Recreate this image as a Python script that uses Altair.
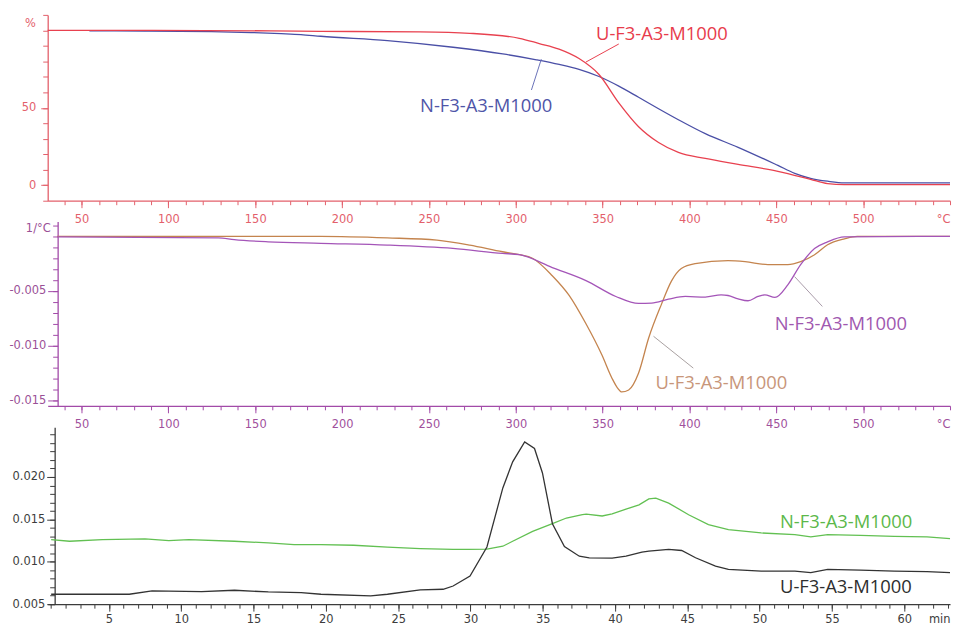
import altair as alt
import pandas as pd

# ---------------- TG: residual mass (%) vs temperature (°C) ----------------
tg_u_temp = [30.5, 90.5, 159.0, 187.7, 244.9, 273.5, 302.0, 313.5, 324.9, 336.4, 347.9,
             359.3, 370.7, 382.2, 393.6, 409.1, 428.0, 450.9, 469.7, 479.5, 489.2, 550.0]
tg_u_mass = [100.0, 100.0, 99.7, 99.4, 99.0, 98.1, 94.9, 91.5, 87.9, 81.8, 71.5,
             53.2, 37.8, 27.6, 21.2, 17.3, 13.5, 9.0, 3.8, 1.0, 0.4, 0.4]

tg_n_temp = [54.5, 86.5, 124.9, 147.7, 164.9, 176.3, 187.7, 226.1, 263.9, 292.5, 311.9,
             325.0, 336.4, 347.9, 359.3, 370.7, 382.2, 393.6, 409.1, 428.0, 450.9, 460.6,
             469.7, 479.5, 489.2, 550.0]
tg_n_mass = [99.7, 99.6, 99.2, 98.6, 97.9, 97.3, 96.2, 93.4, 89.1, 84.8, 81.0,
             78.0, 74.8, 70.2, 64.0, 56.8, 49.4, 42.3, 33.3, 24.5, 12.8, 7.7,
             4.5, 2.6, 1.5, 1.5]

# ---------------- DTG: mass-loss rate (1/°C) vs temperature (°C) ----------------
dtg_u_temp = [36.0, 187.7, 226.0, 254.6, 273.5, 292.4, 302.1, 309.6, 321.0, 330.7, 340.4,
              349.6, 355.3, 358.5, 361.0, 365.0, 370.7, 376.5, 383.9, 389.6, 395.3, 403.3,
              422.2, 432.0, 445.2, 456.6, 464.0, 472.0, 479.5, 489.2, 496.6, 550.0]
dtg_u_rate = [0.0, 0.0, -0.00014, -0.00035, -0.0008, -0.00141, -0.00168, -0.0020, -0.0036,
              -0.0054, -0.0080, -0.01086, -0.01295, -0.01385, -0.01423, -0.01405, -0.0125,
              -0.0093, -0.0062, -0.0041, -0.00295, -0.0025, -0.00223, -0.00232, -0.00259,
              -0.00259, -0.00232, -0.00168, -0.00077, -0.00023, 0.0, 0.0]

dtg_n_temp = [36.0, 128.8, 137.9, 157.4, 187.7, 226.0, 263.8, 292.4, 302.1, 321.0, 340.4,
              357.6, 370.7, 378.2, 387.9, 397.6, 409.1, 418.2, 422.2, 428.0, 433.7, 439.4,
              443.4, 449.2, 456.6, 464.0, 472.0, 479.5, 489.2, 550.0]
dtg_n_rate = [-0.00005, -0.00014, -0.00030, -0.0005, -0.00064, -0.0008, -0.00111, -0.00156,
              -0.00168, -0.00286, -0.00405, -0.0055, -0.00614, -0.00611, -0.00575, -0.0055,
              -0.00556, -0.00535, -0.00541, -0.00571, -0.00589, -0.0055, -0.00535, -0.00559,
              -0.00444, -0.00259, -0.00111, -0.0005, -0.00005, 0.0]

# ---------------- Evolved-gas signal vs time (min) ----------------
gas_u_time = [1.0, 6.40, 7.98, 11.41, 13.68, 16.02, 18.29, 19.66, 23.10, 24.26, 26.53, 28.11,
              28.80, 29.97, 31.14, 32.24, 32.92, 33.75, 34.43, 34.98, 35.67, 36.50, 37.53,
              38.22, 39.80, 40.76, 41.86, 42.34, 43.71, 44.61, 45.57, 46.95, 47.84, 50.11,
              52.44, 53.54, 54.71, 56.98, 59.31, 61.58, 63.17]
gas_u_val = [0.00617, 0.00617, 0.00656, 0.00649, 0.00664, 0.00644, 0.00637, 0.00617, 0.00597,
             0.00617, 0.00668, 0.00676, 0.00714, 0.00832, 0.01174, 0.01871, 0.02179, 0.02414,
             0.02336, 0.02047, 0.01449, 0.01180, 0.01066, 0.01045, 0.01043, 0.01066, 0.01113,
             0.01125, 0.01145, 0.01133, 0.01047, 0.00949, 0.00910, 0.00890, 0.00890, 0.00871,
             0.00910, 0.00902, 0.00890, 0.00883, 0.00871]

gas_n_time = [1.0, 2.27, 4.54, 7.49, 9.14, 10.52, 13.68, 16.02, 17.80, 19.66, 21.93, 24.26,
              26.53, 28.80, 29.76, 31.14, 32.24, 32.92, 34.30, 35.67, 36.64, 37.74, 38.01,
              39.11, 39.80, 40.76, 41.66, 42.34, 42.82, 43.71, 45.09, 46.46, 47.84, 50.11,
              52.44, 53.54, 54.71, 56.98, 59.31, 61.58, 63.17]
gas_n_val = [0.01262, 0.01242, 0.01262, 0.01270, 0.01250, 0.01262, 0.01242, 0.01223, 0.01203,
             0.01203, 0.01195, 0.01172, 0.01156, 0.01145, 0.01145, 0.0115, 0.01183, 0.01242,
             0.01359, 0.01449, 0.01516, 0.01555, 0.01563, 0.0154, 0.01566, 0.01622, 0.01672,
             0.01742, 0.01750, 0.01692, 0.01555, 0.01438, 0.01379, 0.0134, 0.0132, 0.01293,
             0.0132, 0.01312, 0.013, 0.01293, 0.01273]

# ---------------- Curve labels and their leader lines ----------------
tg_label_text = ["U-F3-A3-M1000", "N-F3-A3-M1000"]
tg_label_x = [346.2, 244.9]
tg_label_y = [97.4, 51.3]
tg_leader_x = [340.3, 309.0]
tg_leader_y = [79.5, 61.5]
tg_leader_x2 = [359.3, 314.7]
tg_leader_y2 = [91.2, 81.4]

dtg_label_text = ["N-F3-A3-M1000", "U-F3-A3-M1000"]
dtg_label_x = [449.1, 380.4]
dtg_label_y = [-0.00805, -0.01341]
dtg_leader_x = [460.5, 379.3]
dtg_leader_y = [-0.00368, -0.00914]
dtg_leader_x2 = [476.5, 402.2]
dtg_leader_y2 = [-0.00641, -0.01205]

gas_label_text = ["N-F3-A3-M1000", "U-F3-A3-M1000"]
gas_label_x = [51.41, 51.41]
gas_label_y = [0.01473, 0.00699]

AXIS_FONT = "DejaVu Sans"
LABEL_FONT = "Open Sans"
TICK_FS = 11.5
PLOT_W = 908


def x_axes(color, label_color, minor, major, pad, title, title_y):
    minor_ax = alt.Axis(orient="bottom", values=minor, labels=False, domain=False, grid=False,
                        tickColor=color, tickSize=4, tickWidth=1, title=None)
    major_ax = alt.Axis(orient="bottom", values=major, grid=False, domainColor=color,
                        domainWidth=1.3, tickColor=color, tickSize=7, tickWidth=1,
                        labelColor=label_color, labelFont=AXIS_FONT, labelFontSize=TICK_FS,
                        labelPadding=pad, labelFlush=False, labelOverlap=False,
                        title=title, titleX=PLOT_W, titleY=title_y, titleAlign="right",
                        titleBaseline="middle", titleColor=label_color, titleFont=AXIS_FONT,
                        titleFontSize=TICK_FS, titleFontWeight="normal")
    return minor_ax, major_ax


def y_axes(color, label_color, minor, major, offset, major_size, pad, label_expr,
           title=None, title_x=0, title_y=0):
    minor_ax = alt.Axis(orient="left", values=minor, labels=False, domain=False, grid=False,
                        offset=offset, tickColor=color, tickSize=5, tickWidth=1, title=None)
    kw = dict(orient="left", values=major, grid=False, offset=offset, domainColor=color,
              domainWidth=1.3, tickColor=color, tickSize=major_size, tickWidth=1,
              labelColor=label_color, labelFont=AXIS_FONT, labelFontSize=TICK_FS,
              labelPadding=pad, labelFlush=False, labelOverlap=False, labelExpr=label_expr)
    if title:
        kw.update(title=title, titleAngle=0, titleX=title_x, titleY=title_y,
                  titleAlign="center", titleBaseline="middle", titleColor=label_color,
                  titleFont=AXIS_FONT, titleFontSize=TICK_FS, titleFontWeight="normal")
    else:
        kw.update(title=None)
    return minor_ax, alt.Axis(**kw)


def panel(first, second, notes, leaders, xdom, ydom, height, xax, yax, interp):
    xs = alt.Scale(domain=xdom, nice=False, zero=False)
    ys = alt.Scale(domain=ydom, nice=False, zero=False)
    (d1, c1), (d2, c2) = first, second
    line_a = alt.Chart(d1).mark_line(color=c1, strokeWidth=1.3, interpolate=interp).encode(
        x=alt.X("x:Q", scale=xs, axis=xax[0]),
        y=alt.Y("y:Q", scale=ys, axis=yax[0]),
    )
    line_b = alt.Chart(d2).mark_line(color=c2, strokeWidth=1.3, interpolate=interp).encode(
        x=alt.X("x:Q", scale=xs, axis=xax[1]),
        y=alt.Y("y:Q", scale=ys, axis=yax[1]),
    )
    layers = [line_a, line_b]
    if leaders is not None:
        layers.append(
            alt.Chart(leaders).mark_rule(strokeWidth=1).encode(
                x=alt.X("x:Q", scale=xs, axis=None),
                y=alt.Y("y:Q", scale=ys, axis=None),
                x2="x2:Q", y2="y2:Q",
                color=alt.Color("c:N", scale=None),
            )
        )
    layers.append(
        alt.Chart(notes).mark_text(align="left", baseline="middle", font=LABEL_FONT,
                                   fontSize=18.5).encode(
            x=alt.X("x:Q", scale=xs, axis=None),
            y=alt.Y("y:Q", scale=ys, axis=None),
            text="t:N",
            color=alt.Color("c:N", scale=None),
        )
    )
    return (alt.layer(*layers)
            .resolve_axis(x="independent", y="independent")
            .properties(width=PLOT_W, height=height))


temp_minor = list(range(40, 551, 10))
temp_major = list(range(50, 501, 50))
neg_fmt = "(datum.value < 0 ? '-' : '') + format(abs(datum.value), '.3f')"

# ---- panel 1: TG ----
RED_AX = "#e3606b"
tg = panel(
    (pd.DataFrame({"x": tg_n_temp, "y": tg_n_mass}), "#4a4fa6"),
    (pd.DataFrame({"x": tg_u_temp, "y": tg_u_mass}), "#e8414f"),
    pd.DataFrame({"x": tg_label_x, "y": tg_label_y, "t": tg_label_text,
                  "c": ["#e83c4c", "#4f55a8"]}),
    pd.DataFrame({"x": tg_leader_x, "y": tg_leader_y, "x2": tg_leader_x2, "y2": tg_leader_y2,
                  "c": ["#e8414f", "#6a72b8"]}),
    [30.5, 550], [-10, 110], 187,
    x_axes(RED_AX, RED_AX, temp_minor, temp_major, 5.5, "°C", 19),
    y_axes(RED_AX, RED_AX, list(range(-10, 111, 10)), [0, 50], 0, 7, 5, "datum.label",
           "%", -18, 9),
    "monotone",
)

# ---- panel 2: DTG ----
PURPLE_AX = "#a24aa8"
dtg = panel(
    (pd.DataFrame({"x": dtg_u_temp, "y": dtg_u_rate}), "#c4844e"),
    (pd.DataFrame({"x": dtg_n_temp, "y": dtg_n_rate}), "#a455b8"),
    pd.DataFrame({"x": dtg_label_x, "y": dtg_label_y, "t": dtg_label_text,
                  "c": ["#a058b0", "#c8967a"]}),
    pd.DataFrame({"x": dtg_leader_x, "y": dtg_leader_y, "x2": dtg_leader_x2,
                  "y2": dtg_leader_y2, "c": ["#a89aa8", "#a8a0a0"]}),
    [30.5, 550], [-0.0155, 0.00135], 185.4,
    x_axes(PURPLE_AX, "#a0509c", temp_minor, temp_major, 6, "°C", 19),
    y_axes(PURPLE_AX, "#9a5096", [round(-0.015 + i * 0.001, 3) for i in range(17)],
           [-0.015, -0.01, -0.005], -10, 10, 2, neg_fmt, "1/°C", -20, 7),
    "monotone",
)

# ---- panel 3: evolved gas ----
GRAY_AX = "#3c3c3c"
gas = panel(
    (pd.DataFrame({"x": gas_n_time, "y": gas_n_val}), "#62c052"),
    (pd.DataFrame({"x": gas_u_time, "y": gas_u_val}), "#333333"),
    pd.DataFrame({"x": gas_label_x, "y": gas_label_y, "t": gas_label_text,
                  "c": ["#5cb84a", "#2e2e2e"]}),
    None,
    [0.76, 63.17], [0.005, 0.02586], 178,
    x_axes(GRAY_AX, GRAY_AX, list(range(1, 64)), list(range(5, 61, 5)), 2, "min", 15),
    y_axes(GRAY_AX, GRAY_AX, [round(0.005 + i * 0.001, 3) for i in range(21)],
           [0.005, 0.01, 0.015, 0.02], -7, 8, 2, "format(datum.value, '.3f')"),
    "linear",
)

chart = (
    alt.vconcat(tg, dtg, gas, spacing=21, bounds="flush")
    .properties(background="white",
                padding={"left": 8, "top": 12, "right": 0, "bottom": 0})
    .configure_view(strokeWidth=0)
)

chart.save("out.html", embed_options={"renderer": "svg", "actions": False})
